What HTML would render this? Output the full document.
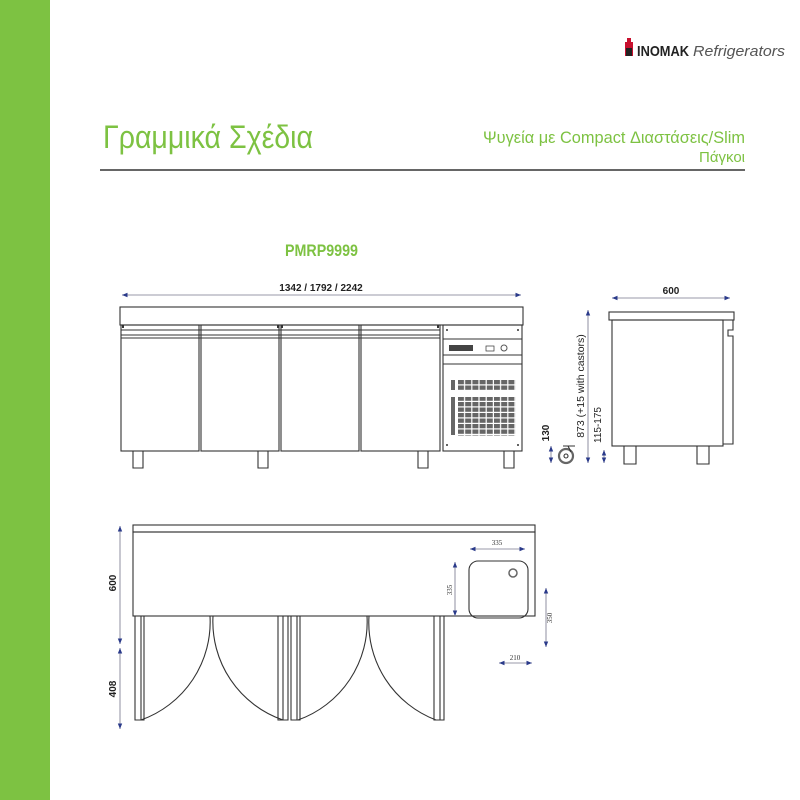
<!DOCTYPE html>
<html><head><meta charset="utf-8"><style>
html,body{margin:0;padding:0;background:#fff;}
svg{display:block}
</style></head><body>
<svg width="800" height="800" viewBox="0 0 800 800" xmlns="http://www.w3.org/2000/svg" font-family="Liberation Sans Narrow, Liberation Sans, sans-serif">
<defs>
<marker id="a" viewBox="0 0 10 10" refX="10" refY="5" markerWidth="5" markerHeight="5" orient="auto-start-reverse"><path d="M0,1 L10,5 L0,9z" fill="#2a3a8a"/></marker>
<pattern id="vent" x="458" y="380" width="7.2" height="5.5" patternUnits="userSpaceOnUse"><rect width="6" height="4.3" fill="#666"/></pattern>
</defs>
<rect x="0" y="0" width="50" height="800" fill="#7dc242"/>
<!-- logo -->
<rect x="625" y="42" width="8" height="14" fill="#c8102e"/><rect x="627" y="38" width="4" height="5" fill="#c8102e"/><rect x="626" y="48" width="6" height="8" fill="#222"/>
<text x="637" y="56" font-family="Liberation Sans, sans-serif" font-weight="bold" font-size="15" fill="#222" textLength="52" lengthAdjust="spacingAndGlyphs">INOMAK</text>
<text x="693" y="56" font-family="Liberation Sans, sans-serif" font-style="italic" font-size="15" fill="#555" textLength="92" lengthAdjust="spacingAndGlyphs">Refrigerators</text>
<!-- header -->
<text x="103" y="148" font-size="32" fill="#7dc242" textLength="210" lengthAdjust="spacingAndGlyphs">Γραμμικά Σχέδια</text>
<text x="745" y="143" font-size="17" fill="#7dc242" text-anchor="end" textLength="262" lengthAdjust="spacingAndGlyphs">Ψυγεία με Compact Διαστάσεις/Slim</text>
<text x="745" y="162" font-size="15" fill="#7dc242" text-anchor="end">Πάγκοι</text>
<line x1="100" y1="170" x2="745" y2="170" stroke="#333" stroke-width="1.5"/>
<text x="285" y="256" font-family="Liberation Sans, sans-serif" font-weight="bold" font-size="17" fill="#7dc242" textLength="73" lengthAdjust="spacingAndGlyphs">PMRP9999</text>
<g fill="none" stroke="#333" stroke-width="1.1">
<!-- FRONT VIEW -->
<line x1="122" y1="295" x2="521" y2="295" stroke="#99a" marker-start="url(#a)" marker-end="url(#a)"/>
<rect x="120" y="307" width="403" height="18"/>
<rect x="121" y="325" width="78" height="126"/><rect x="201" y="325" width="78" height="126"/>
<rect x="281" y="325" width="78" height="126"/><rect x="361" y="325" width="79" height="126"/>
<path d="M121,330H440M121,335H440M121,338H440"/>
<rect x="443" y="325" width="79" height="126"/>
<path d="M443,339H522M443,355H522M443,364H522"/>
<path d="M133,451v17h10v-17M258,451v17h10v-17M418,451v17h10v-17M504,451v17h10v-17"/>
<!-- SIDE VIEW -->
<line x1="612" y1="298" x2="730" y2="298" stroke="#99a" marker-start="url(#a)" marker-end="url(#a)"/>
<rect x="609" y="312" width="125" height="8"/>
<rect x="612" y="320" width="111" height="126"/>
<path d="M723,320h10v10h-5v6h5v108h-10"/>
<path d="M624,446v18h12v-18M697,446v18h12v-18"/>
<circle cx="566" cy="456" r="7" stroke-width="2.2" stroke="#666"/><circle cx="566" cy="456" r="2"/><path d="M563,446h12M568,446l3,6"/>
<line x1="588" y1="310" x2="588" y2="463" stroke="#99a" marker-start="url(#a)" marker-end="url(#a)"/>
<line x1="551" y1="446" x2="551" y2="463" stroke="#99a" marker-start="url(#a)" marker-end="url(#a)"/>
<line x1="604" y1="450" x2="604" y2="463" stroke="#99a" marker-start="url(#a)" marker-end="url(#a)"/>
<!-- TOP VIEW -->
<rect x="133" y="525" width="402" height="7"/>
<rect x="133" y="532" width="402" height="84"/>
<rect x="469" y="561" width="59" height="57" rx="9"/>
<circle cx="513" cy="573" r="4" stroke="#666" stroke-width="1.5"/>
<path d="M135,616v104h9v-104M141,616v104M278,616v104h10v-104M283,616v104M291,616v104h9v-104M297,616v104M434,616v104h10v-104M440,616v104"/>
<path d="M141,720 A104,104 0 0 0 210,616 M283,720 A104,104 0 0 1 213,616 M298,720 A104,104 0 0 0 367,616 M436,720 A104,104 0 0 1 369,616"/>
<g stroke="#99a">
<line x1="120" y1="526" x2="120" y2="644" marker-start="url(#a)" marker-end="url(#a)"/>
<line x1="120" y1="648" x2="120" y2="729" marker-start="url(#a)" marker-end="url(#a)"/>
<line x1="470" y1="549" x2="525" y2="549" marker-start="url(#a)" marker-end="url(#a)"/>
<line x1="455" y1="562" x2="455" y2="616" marker-start="url(#a)" marker-end="url(#a)"/>
<line x1="546" y1="588" x2="546" y2="647" marker-start="url(#a)" marker-end="url(#a)"/>
<line x1="499" y1="663" x2="532" y2="663" marker-start="url(#a)" marker-end="url(#a)"/>
</g>
</g>
<g fill="#333"><rect x="122" y="325" width="2" height="3"/><rect x="277" y="325" width="2" height="3"/><rect x="281" y="325" width="2" height="3"/><rect x="437" y="325" width="2" height="3"/>
<circle cx="447" cy="330" r="1"/><circle cx="518" cy="330" r="1"/><circle cx="447" cy="445" r="1"/><circle cx="518" cy="445" r="1"/></g>
<rect x="449" y="345" width="24" height="6" fill="#444"/><rect x="486" y="346" width="8" height="5" fill="none" stroke="#333" stroke-width="0.7"/><circle cx="504" cy="348" r="3" fill="none" stroke="#555"/>
<rect x="451" y="380" width="4" height="10" fill="#666"/><rect x="458" y="380" width="57.6" height="11" fill="url(#vent)"/>
<rect x="451" y="397" width="4" height="38" fill="#666"/><rect x="458" y="397" width="57.6" height="38.5" fill="url(#vent)"/>
<g font-family="Liberation Sans, sans-serif" fill="#222" font-size="10">
<text x="321" y="291" text-anchor="middle" font-weight="bold">1342 / 1792 / 2242</text>
<text x="671" y="294" text-anchor="middle" font-weight="bold">600</text>
<text transform="translate(584,386) rotate(-90)" text-anchor="middle" font-size="10.5">873 (+15 with castors)</text>
<text transform="translate(549,433) rotate(-90)" text-anchor="middle" font-weight="bold">130</text>
<text transform="translate(601,425) rotate(-90)" text-anchor="middle">115-175</text>
<text transform="translate(116,583) rotate(-90)" text-anchor="middle" font-weight="bold">600</text>
<text transform="translate(116,689) rotate(-90)" text-anchor="middle" font-weight="bold">408</text>
</g>
<g font-family="Liberation Serif, serif" fill="#333" font-size="7">
<text x="497" y="545" text-anchor="middle">335</text>
<text transform="translate(452,590) rotate(-90)" text-anchor="middle">335</text>
<text transform="translate(552,618) rotate(-90)" text-anchor="middle">350</text>
<text x="515" y="660" text-anchor="middle">210</text>
</g>
</svg>
</body></html>
